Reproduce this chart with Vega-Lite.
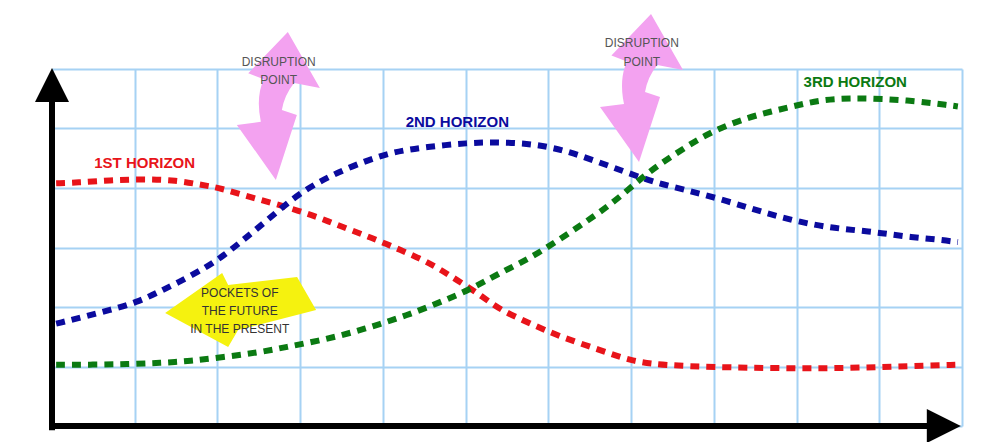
{
  "$schema": "https://vega.github.io/schema/vega-lite/v6.json",
  "width": 910,
  "height": 357,
  "autosize": {"type": "none"},
  "padding": {"left": 52, "top": 69, "right": 19, "bottom": 16},
  "background": "#ffffff",
  "config": {
    "view": {"stroke": null},
    "axis": {"domain": false, "ticks": false, "labels": false, "title": null, "grid": true, "gridColor": "#a6d2f4", "gridWidth": 2, "gridOpacity": 1},
    "axisX": {"tickCount": 11},
    "axisY": {"tickCount": 6}
  },
  "datasets": {
    "curves": [
      {"s": "1st", "t": 0.05, "v": 4.08}, {"s": "1st", "t": 0.3, "v": 4.09}, {"s": "1st", "t": 0.7, "v": 4.13}, {"s": "1st", "t": 1.1, "v": 4.15}, {"s": "1st", "t": 1.5, "v": 4.13}, {"s": "1st", "t": 1.82, "v": 4.05}, {"s": "1st", "t": 2.03, "v": 4.0}, {"s": "1st", "t": 2.39, "v": 3.85}, {"s": "1st", "t": 2.76, "v": 3.71}, {"s": "1st", "t": 3.14, "v": 3.55}, {"s": "1st", "t": 3.5, "v": 3.35}, {"s": "1st", "t": 3.87, "v": 3.16}, {"s": "1st", "t": 4.21, "v": 2.96}, {"s": "1st", "t": 4.57, "v": 2.74}, {"s": "1st", "t": 4.9, "v": 2.45}, {"s": "1st", "t": 5.21, "v": 2.17}, {"s": "1st", "t": 5.42, "v": 1.95}, {"s": "1st", "t": 5.77, "v": 1.73}, {"s": "1st", "t": 6.14, "v": 1.5}, {"s": "1st", "t": 6.62, "v": 1.28}, {"s": "1st", "t": 7.02, "v": 1.08}, {"s": "1st", "t": 7.43, "v": 1.02}, {"s": "1st", "t": 7.99, "v": 0.99}, {"s": "1st", "t": 8.8, "v": 0.97}, {"s": "1st", "t": 9.6, "v": 0.97}, {"s": "1st", "t": 10.4, "v": 1.01}, {"s": "1st", "t": 10.95, "v": 1.03},
      {"s": "2nd", "t": 0.05, "v": 1.72}, {"s": "2nd", "t": 0.375, "v": 1.83}, {"s": "2nd", "t": 0.7, "v": 1.95}, {"s": "2nd", "t": 1.03, "v": 2.08}, {"s": "2nd", "t": 1.27, "v": 2.24}, {"s": "2nd", "t": 1.51, "v": 2.4}, {"s": "2nd", "t": 1.87, "v": 2.67}, {"s": "2nd", "t": 2.07, "v": 2.86}, {"s": "2nd", "t": 2.27, "v": 3.08}, {"s": "2nd", "t": 2.43, "v": 3.26}, {"s": "2nd", "t": 2.72, "v": 3.6}, {"s": "2nd", "t": 3.0, "v": 3.92}, {"s": "2nd", "t": 3.34, "v": 4.19}, {"s": "2nd", "t": 3.72, "v": 4.42}, {"s": "2nd", "t": 4.12, "v": 4.61}, {"s": "2nd", "t": 4.53, "v": 4.69}, {"s": "2nd", "t": 5.02, "v": 4.76}, {"s": "2nd", "t": 5.42, "v": 4.77}, {"s": "2nd", "t": 5.82, "v": 4.74}, {"s": "2nd", "t": 6.18, "v": 4.64}, {"s": "2nd", "t": 6.54, "v": 4.47}, {"s": "2nd", "t": 6.93, "v": 4.27}, {"s": "2nd", "t": 7.27, "v": 4.1}, {"s": "2nd", "t": 7.65, "v": 3.97}, {"s": "2nd", "t": 8.04, "v": 3.83}, {"s": "2nd", "t": 8.44, "v": 3.66}, {"s": "2nd", "t": 8.8, "v": 3.51}, {"s": "2nd", "t": 9.2, "v": 3.38}, {"s": "2nd", "t": 9.56, "v": 3.31}, {"s": "2nd", "t": 9.95, "v": 3.26}, {"s": "2nd", "t": 10.33, "v": 3.18}, {"s": "2nd", "t": 10.74, "v": 3.13}, {"s": "2nd", "t": 10.95, "v": 3.09},
      {"s": "3rd", "t": 0.05, "v": 1.03}, {"s": "3rd", "t": 0.5, "v": 1.03}, {"s": "3rd", "t": 0.91, "v": 1.04}, {"s": "3rd", "t": 1.31, "v": 1.06}, {"s": "3rd", "t": 1.67, "v": 1.09}, {"s": "3rd", "t": 2.07, "v": 1.16}, {"s": "3rd", "t": 2.48, "v": 1.23}, {"s": "3rd", "t": 2.84, "v": 1.33}, {"s": "3rd", "t": 3.22, "v": 1.43}, {"s": "3rd", "t": 3.6, "v": 1.56}, {"s": "3rd", "t": 3.96, "v": 1.71}, {"s": "3rd", "t": 4.33, "v": 1.88}, {"s": "3rd", "t": 4.69, "v": 2.08}, {"s": "3rd", "t": 5.05, "v": 2.29}, {"s": "3rd", "t": 5.38, "v": 2.55}, {"s": "3rd", "t": 5.81, "v": 2.84}, {"s": "3rd", "t": 6.18, "v": 3.18}, {"s": "3rd", "t": 6.54, "v": 3.51}, {"s": "3rd", "t": 6.87, "v": 3.85}, {"s": "3rd", "t": 7.19, "v": 4.25}, {"s": "3rd", "t": 7.51, "v": 4.55}, {"s": "3rd", "t": 7.83, "v": 4.84}, {"s": "3rd", "t": 8.16, "v": 5.06}, {"s": "3rd", "t": 8.52, "v": 5.23}, {"s": "3rd", "t": 8.92, "v": 5.36}, {"s": "3rd", "t": 9.28, "v": 5.48}, {"s": "3rd", "t": 9.65, "v": 5.51}, {"s": "3rd", "t": 10.04, "v": 5.5}, {"s": "3rd", "t": 10.45, "v": 5.46}, {"s": "3rd", "t": 10.85, "v": 5.39}, {"s": "3rd", "t": 10.95, "v": 5.37}
    ]
  },
  "layer": [
    {
      "data": {"values": [{"x1": 0, "x2": 10.6, "y1": 0, "y2": 0}, {"x1": 0, "x2": 0, "y1": -0.07, "y2": 5.5}]},
      "mark": {"type": "rule", "color": "#000000", "strokeWidth": 6},
      "encoding": {
        "x": {"field": "x1", "type": "quantitative", "scale": {"domain": [0, 11], "nice": false, "zero": false}},
        "x2": {"field": "x2"},
        "y": {"field": "y1", "type": "quantitative", "scale": {"domain": [0, 6], "nice": false, "zero": false}},
        "y2": {"field": "y2"}
      }
    },
    {
      "data": {"values": [{"x": 0, "y": 5.73}]},
      "mark": {"type": "point", "shape": "M0,-1L1,1L-1,1Z", "filled": true, "color": "#000000", "opacity": 1, "size": 1156, "strokeWidth": 0},
      "encoding": {
        "x": {"field": "x", "type": "quantitative", "scale": {"domain": [0, 11], "nice": false, "zero": false}},
        "y": {"field": "y", "type": "quantitative", "scale": {"domain": [0, 6], "nice": false, "zero": false}}
      }
    },
    {
      "data": {"values": [{"x": 10.78, "y": 0}]},
      "mark": {"type": "point", "shape": "M1,0L-1,-1L-1,1Z", "filled": true, "color": "#000000", "opacity": 1, "size": 1156, "strokeWidth": 0},
      "encoding": {
        "x": {"field": "x", "type": "quantitative", "scale": {"domain": [0, 11], "nice": false, "zero": false}},
        "y": {"field": "y", "type": "quantitative", "scale": {"domain": [0, 6], "nice": false, "zero": false}}
      }
    },
    {
      "data": {"name": "curves"},
      "mark": {"type": "line", "interpolate": "basis", "strokeWidth": 6, "strokeDash": [9, 7], "strokeCap": "butt"},
      "encoding": {
        "x": {"field": "t", "type": "quantitative", "scale": {"domain": [0, 11], "nice": false, "zero": false}},
        "y": {"field": "v", "type": "quantitative", "scale": {"domain": [0, 6], "nice": false, "zero": false}},
        "color": {"field": "s", "type": "nominal", "scale": {"domain": ["1st", "2nd", "3rd"], "range": ["#e8141a", "#0b0b9e", "#0b7a12"]}, "legend": null}
      }
    },
    {
      "data": {"values": [{"x": 2.73, "y": 5.38}, {"x": 7.12, "y": 5.68}]},
      "mark": {"type": "point", "shape": "M0.135,-1L0.568,-0.243L0.22,-0.31Q0.09,-0.15,0.054,0.054L0.257,0.122L-0.027,1L-0.554,0.257L-0.23,0.216Q-0.3,-0.12,-0.19,-0.36L-0.40,-0.44Z", "filled": true, "color": "#f3a2f0", "opacity": 1, "size": 21904, "strokeWidth": 0},
      "encoding": {
        "x": {"field": "x", "type": "quantitative", "scale": {"domain": [0, 11], "nice": false, "zero": false}},
        "y": {"field": "y", "type": "quantitative", "scale": {"domain": [0, 6], "nice": false, "zero": false}}
      }
    },
    {
      "data": {"values": [{"x": 2.28, "y": 1.95}]},
      "mark": {"type": "point", "shape": "M-0.993,0.039L-0.243,-0.487L-0.164,-0.329L0.743,-0.434L0.993,0L-0.033,0.263L-0.164,0.487Z", "filled": true, "color": "#f5f20f", "opacity": 1, "size": 23104, "strokeWidth": 0},
      "encoding": {
        "x": {"field": "x", "type": "quantitative", "scale": {"domain": [0, 11], "nice": false, "zero": false}},
        "y": {"field": "y", "type": "quantitative", "scale": {"domain": [0, 6], "nice": false, "zero": false}}
      }
    },
    {
      "data": {"values": [
        {"x": 1.12, "y": 4.42, "label": "1ST HORIZON", "s": "1st"},
        {"x": 4.9, "y": 5.11, "label": "2ND HORIZON", "s": "2nd"},
        {"x": 9.71, "y": 5.78, "label": "3RD HORIZON", "s": "3rd"}
      ]},
      "mark": {"type": "text", "font": "Liberation Sans", "fontSize": 15, "fontWeight": "bold", "align": "center", "baseline": "middle"},
      "encoding": {
        "x": {"field": "x", "type": "quantitative", "scale": {"domain": [0, 11], "nice": false, "zero": false}},
        "y": {"field": "y", "type": "quantitative", "scale": {"domain": [0, 6], "nice": false, "zero": false}},
        "text": {"field": "label"},
        "color": {"field": "s", "type": "nominal", "scale": {"domain": ["1st", "2nd", "3rd"], "range": ["#e8141a", "#0b0b9e", "#0b7a12"]}, "legend": null}
      }
    },
    {
      "data": {"values": [
        {"x": 2.74, "y": 6.12, "label": "DISRUPTION"},
        {"x": 2.74, "y": 5.82, "label": "POINT"},
        {"x": 7.13, "y": 6.44, "label": "DISRUPTION"},
        {"x": 7.13, "y": 6.12, "label": "POINT"}
      ]},
      "mark": {"type": "text", "font": "Liberation Sans", "fontSize": 12, "color": "#555555", "align": "center", "baseline": "middle"},
      "encoding": {
        "x": {"field": "x", "type": "quantitative", "scale": {"domain": [0, 11], "nice": false, "zero": false}},
        "y": {"field": "y", "type": "quantitative", "scale": {"domain": [0, 6], "nice": false, "zero": false}},
        "text": {"field": "label"}
      }
    },
    {
      "data": {"values": [
        {"x": 2.27, "y": 2.24, "label": "POCKETS OF"},
        {"x": 2.27, "y": 1.93, "label": "THE FUTURE"},
        {"x": 2.27, "y": 1.63, "label": "IN THE PRESENT"}
      ]},
      "mark": {"type": "text", "font": "Liberation Sans", "fontSize": 12, "color": "#333333", "align": "center", "baseline": "middle"},
      "encoding": {
        "x": {"field": "x", "type": "quantitative", "scale": {"domain": [0, 11], "nice": false, "zero": false}},
        "y": {"field": "y", "type": "quantitative", "scale": {"domain": [0, 6], "nice": false, "zero": false}},
        "text": {"field": "label"}
      }
    }
  ]
}
